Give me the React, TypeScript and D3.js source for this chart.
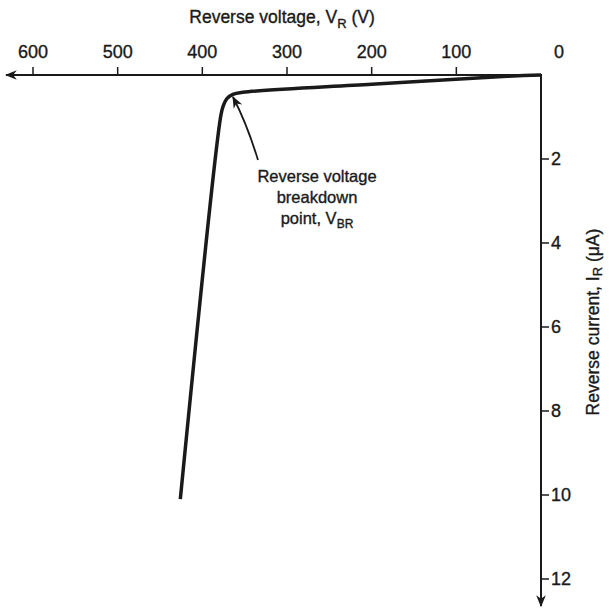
import React, { useRef, useEffect } from 'react';
import * as d3 from 'd3';

// reverse characteristic of a diode: [V_R (V), I_R (µA)]
const curvePoints: [number, number][] = [
  [0, 0], [40, 0.03], [200, 0.22], [352, 0.41], [364, 0.46], [371, 0.56], [375, 0.72], [378, 0.95], [426, 10.1],
];
const xTicks = [600, 500, 400, 300, 200, 100];
const yTicks = [2, 4, 6, 8, 10, 12];
const noteLines = ['Reverse voltage', 'breakdown'];

const W = 609;
const H = 610;
const FONT = '"Liberation Sans", Arial, sans-serif';
const INK = '#1a1a1a';

const App = () => {
  const svgRef = useRef<SVGSVGElement>(null);

  useEffect(() => {
    const svg = d3.select(svgRef.current);
    svg.selectAll('*').remove();

    const x = d3.scaleLinear().domain([0, 600]).range([541, 33]);
    const y = d3.scaleLinear().domain([0, 12]).range([75, 579]);

    const defs = svg.append('defs');
    defs.append('marker')
      .attr('id', 'head')
      .attr('viewBox', '0 0 10 10')
      .attr('refX', 9).attr('refY', 5)
      .attr('markerWidth', 12).attr('markerHeight', 12)
      .attr('markerUnits', 'userSpaceOnUse')
      .attr('orient', 'auto')
      .append('path').attr('d', 'M0,1 L10,5 L0,9 L3,5 Z').attr('fill', INK);

    // text helper, slight stroke to look like the printed original
    const label = (xp: number, yp: number, size: number, anchor = 'middle') =>
      svg.append('text')
        .attr('x', xp).attr('y', yp)
        .attr('text-anchor', anchor)
        .attr('font-family', FONT).attr('font-size', size)
        .attr('fill', INK)
        .attr('stroke', INK).attr('stroke-width', 0.35);

    // x axis (pointing left)
    svg.append('line')
      .attr('x1', x(0)).attr('x2', 6)
      .attr('y1', y(0)).attr('y2', y(0))
      .attr('stroke', INK).attr('stroke-width', 2)
      .attr('marker-end', 'url(#head)');

    // y axis (pointing down)
    svg.append('line')
      .attr('x1', x(0)).attr('x2', x(0))
      .attr('y1', y(0) - 1).attr('y2', 606)
      .attr('stroke', INK).attr('stroke-width', 2)
      .attr('marker-end', 'url(#head)');

    xTicks.forEach(t => {
      svg.append('line')
        .attr('x1', x(t)).attr('x2', x(t))
        .attr('y1', y(0) - 8).attr('y2', y(0))
        .attr('stroke', INK).attr('stroke-width', 1.5);
      label(x(t), 58, 18).text(t);
    });
    label(x(0) + 18, 58, 18).text(0);

    yTicks.forEach(t => {
      svg.append('line')
        .attr('x1', x(0)).attr('x2', x(0) + 8)
        .attr('y1', y(t)).attr('y2', y(t))
        .attr('stroke', INK).attr('stroke-width', 1.5);
      label(x(0) + 10, y(t), 18, 'start').attr('dy', '0.36em').text(t);
    });

    // axis titles
    const xt = label(282, 23, 17.5);
    xt.append('tspan').text('Reverse voltage, V');
    xt.append('tspan').attr('dy', 5).attr('font-size', 13).text('R');
    xt.append('tspan').attr('dy', -5).text('  (V)');

    const yt = label(0, 0, 17.5).attr('transform', 'translate(599,322) rotate(-90)');
    yt.append('tspan').text('Reverse current, I');
    yt.append('tspan').attr('dy', 3).attr('font-size', 13).text('R');
    yt.append('tspan').attr('dy', -3).text('  (\u03bcA)');

    // characteristic curve
    const line = d3.line<[number, number]>()
      .x(d => x(d[0]))
      .y(d => y(d[1]))
      .curve(d3.curveCatmullRom.alpha(0.5));
    svg.append('path')
      .attr('d', line(curvePoints))
      .attr('fill', 'none')
      .attr('stroke', INK)
      .attr('stroke-width', 3.5)
      .attr('stroke-linejoin', 'round')
      .attr('stroke-linecap', 'butt');

    // annotation arrow
    svg.append('path')
      .attr('d', 'M258,160 Q247,124 233,97')
      .attr('fill', 'none')
      .attr('stroke', INK).attr('stroke-width', 1.8)
      .attr('marker-end', 'url(#head)');

    noteLines.forEach((s, i) => {
      label(317, 182 + i * 21, 16.5).text(s);
    });
    const nt = label(317, 224, 16.5);
    nt.append('tspan').text('point, V');
    nt.append('tspan').attr('dy', 4).attr('font-size', 12).text('BR');
  }, []);

  return (
    <div style={{ position: 'absolute', left: 0, top: 0, background: '#fff' }}>
      <svg ref={svgRef} width={W} height={H}></svg>
    </div>
  );
};

export default App;
